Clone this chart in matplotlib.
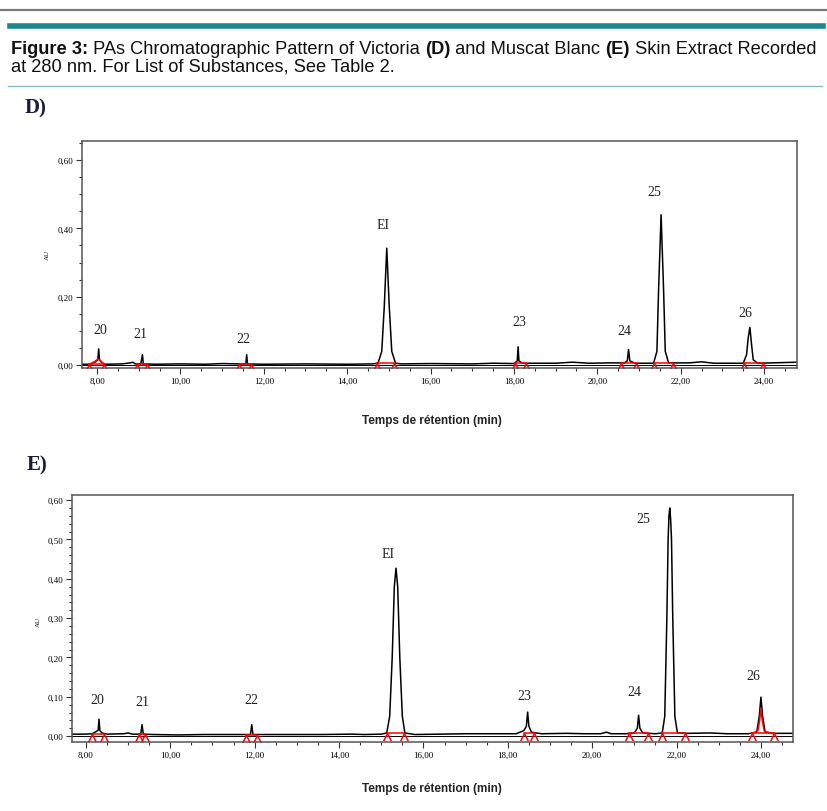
import numpy as np
import matplotlib.pyplot as plt
from matplotlib.ticker import MultipleLocator, FuncFormatter

# ---- data ----
# panel D : Victoria
d_time = [7.64, 7.85, 7.95, 8.02, 8.04, 8.06, 8.12, 8.2, 8.6, 8.8, 8.85, 8.92, 9.05, 9.09, 9.11,
          9.4, 10.0, 10.6, 11.0, 11.4, 11.57, 11.59, 11.61, 12.0, 13.0, 14.0, 14.6, 14.74, 14.83,
          14.89, 14.95, 15.01, 15.07, 15.16, 15.3, 16.0, 17.0, 17.5, 18.0, 18.08, 18.10, 18.12,
          18.2, 19.0, 19.4, 19.8, 20.3, 20.65, 20.72, 20.75, 20.78, 20.9, 21.35, 21.43, 21.47,
          21.53, 21.59, 21.63, 21.71, 22.2, 22.5, 22.8, 23.5, 23.58, 23.62, 23.66, 23.70, 23.74,
          23.85, 24.5, 24.79]
d_au = [0.002, 0.002, 0.008, 0.015, 0.047, 0.015, 0.006, 0.002, 0.003, 0.006, 0.008, 0.003, 0.003,
        0.030, 0.003, 0.002, 0.003, 0.002, 0.004, 0.003, 0.003, 0.030, 0.003, 0.002, 0.003, 0.002,
        0.003, 0.005, 0.04, 0.17, 0.342, 0.17, 0.04, 0.005, 0.003, 0.004, 0.003, 0.005, 0.004,
        0.012, 0.053, 0.012, 0.005, 0.005, 0.008, 0.005, 0.006, 0.006, 0.012, 0.045, 0.012, 0.005,
        0.005, 0.04, 0.22, 0.44, 0.22, 0.04, 0.006, 0.006, 0.009, 0.005, 0.005, 0.03, 0.08, 0.11,
        0.06, 0.015, 0.005, 0.007, 0.008]
d_names = ["20", "21", "22", "EI", "23", "24", "25", "26"]
d_lab_x = [8.07, 9.03, 11.5, 14.86, 18.14, 20.66, 21.36, 23.54]
d_lab_y = [0.103, 0.091, 0.076, 0.41, 0.126, 0.10, 0.507, 0.155]
d_start = [7.81, 8.95, 11.4, 14.72, 18.02, 20.56, 21.36, 23.52]
d_end = [8.17, 9.2, 11.7, 15.12, 18.3, 20.94, 21.81, 23.97]
d_arch_x = [7.81, 7.95, 8.02, 8.06, 8.12, 8.17]
d_arch_y = [0.002, 0.01, 0.017, 0.015, 0.008, 0.002]

# panel E : Muscat Blanc
e_time = [7.67, 8.0, 8.15, 8.25, 8.29, 8.31, 8.33, 8.38, 8.5, 8.9, 9.0, 9.1, 9.3, 9.33, 9.36,
          9.6, 10.2, 10.8, 11.4, 11.9, 11.93, 11.96, 12.4, 13.0, 13.6, 14.3, 14.6, 15.0,
          15.13, 15.2, 15.26, 15.31, 15.35, 15.39, 15.44, 15.50, 15.56,
          15.8, 16.4, 17.0, 17.6, 18.2, 18.38, 18.44, 18.47, 18.50, 18.56,
          18.8, 19.4, 19.8, 20.2, 20.34, 20.45, 20.8, 21.0, 21.07, 21.10, 21.13, 21.2, 21.5,
          21.66, 21.72, 21.77, 21.80, 21.82, 21.84, 21.86, 21.88, 21.91, 21.96, 22.02,
          22.3, 22.8, 23.2, 23.7, 23.9, 23.96, 24.0, 24.04, 24.1, 24.3, 24.76]
e_au = [0.005, 0.005, 0.006, 0.012, 0.015, 0.043, 0.014, 0.008, 0.005, 0.006, 0.008, 0.005, 0.005,
        0.029, 0.005, 0.004, 0.003, 0.004, 0.004, 0.004, 0.029, 0.004, 0.004, 0.004, 0.004, 0.005,
        0.004, 0.005,
        0.008, 0.05, 0.2, 0.38, 0.427, 0.38, 0.2, 0.05, 0.008,
        0.004, 0.005, 0.006, 0.006, 0.006, 0.014, 0.025, 0.061, 0.025, 0.01,
        0.006, 0.007, 0.006, 0.006, 0.010, 0.006, 0.006, 0.008, 0.02, 0.053, 0.02, 0.008, 0.006,
        0.008, 0.05, 0.3, 0.5, 0.56, 0.58, 0.55, 0.5, 0.3, 0.05, 0.008,
        0.007, 0.008, 0.006, 0.006, 0.01, 0.05, 0.099, 0.05, 0.01, 0.007, 0.007]
e_names = ["20", "21", "22", "EI", "23", "24", "25", "26"]
e_lab_x = [8.26, 9.33, 11.91, 15.16, 18.38, 21.0, 21.22, 23.83]
e_lab_y = [0.094, 0.087, 0.094, 0.465, 0.104, 0.114, 0.552, 0.153]
e_start = [8.14, 9.25, 11.79, 15.13, 18.38, 20.87, 21.66, 23.8]
e_end = [8.43, 9.4, 12.06, 15.54, 18.62, 21.32, 22.21, 24.31]
e_arch_x = [23.8, 23.93, 23.97, 24.0, 24.03, 24.08, 24.31]
e_arch_y = [0.006, 0.015, 0.04, 0.07, 0.04, 0.012, 0.006]

W, H = 828, 812
fig = plt.figure(figsize=(W / 100, H / 100), dpi=100)

# header rules
fig.add_artist(plt.Line2D([0, 1], [1 - 11 / H, 1 - 11 / H], color="#7a7a7a", lw=1.6))
fig.add_artist(plt.Line2D([10 / W, 823 / W], [1 - 26.5 / H, 1 - 26.5 / H], color="#178a8e", lw=4))
fig.add_artist(plt.Line2D([8 / W, 822 / W], [1 - 87 / H, 1 - 87 / H], color="#7db7bf", lw=0.9))

# caption, bold and regular pieces side by side
cap1 = [("Figure 3:", "bold"), (" PAs Chromatographic Pattern of Victoria ", "normal"), ("(D)", "bold"),
        (" and Muscat Blanc ", "normal"), ("(E)", "bold"), (" Skin Extract Recorded", "normal")]
cap2 = [("at 280 nm. For List of Substances, See Table 2.", "normal")]
renderer = fig.canvas.get_renderer()


def line_width(parts, size):
    w = 0
    for s, wt in parts:
        t = fig.text(0, 0, s, fontsize=size, fontweight=wt, family="Liberation Sans")
        w += t.get_window_extent(renderer).width
        t.remove()
    return w


fs = 12 * 811 / line_width(cap1, 12)
for parts, base in [(cap1, 53.5), (cap2, 72)]:
    x = 11
    for s, wt in parts:
        t = fig.text(x / W, 1 - base / H, s, fontsize=fs, fontweight=wt, family="Liberation Sans",
                     va="baseline", ha="left", color="#111111")
        x += t.get_window_extent(renderer).width

fig.text(25 / W, 1 - 113 / H, "D)", fontsize=15, fontweight="bold", family="Liberation Serif",
         va="baseline", color="#1b1b3a")
fig.text(27 / W, 1 - 470 / H, "E)", fontsize=15, fontweight="bold", family="Liberation Serif",
         va="baseline", color="#1b1b3a")

# open caret, apex at the point, feet below
lam = [(-1, -2), (0, 0), (1, -2)]
comma = FuncFormatter(lambda v, p: f"{v:.2f}".replace(".", ","))


def panel(rect, xlim, ylim, ymaj, ymin, t, au, names, lx, ly, st, en, ax_x, ax_y, xl_y, yl_pos):
    ax = fig.add_axes(rect)
    ax.axhline(0, color="black", lw=0.7)
    ax.plot(t, au, color="black", lw=1.1)
    y0 = np.interp(st, t, au)
    y1 = np.interp(en, t, au)
    yb = np.minimum(y0, y1)
    for i in range(len(st)):
        ax.plot([st[i], en[i]], [yb[i], yb[i]], color="red", lw=1.1)
    ax.plot(ax_x, ax_y, color="red", lw=1.1)
    ax.plot(list(st) + list(en), list(yb) + list(yb), ls="none", marker=lam, ms=11,
            mfc="none", mec="red", mew=1.1)
    for n, x, y in zip(names, lx, ly):
        ax.text(x, y, n, fontsize=10, family="Liberation Serif", ha="center", va="center", color="#222222")
    ax.set_xlim(*xlim)
    ax.set_ylim(*ylim)
    ax.xaxis.set_major_locator(MultipleLocator(2))
    ax.xaxis.set_minor_locator(MultipleLocator(0.5))
    ax.yaxis.set_major_locator(MultipleLocator(ymaj))
    ax.yaxis.set_minor_locator(MultipleLocator(ymin))
    ax.xaxis.set_major_formatter(comma)
    ax.yaxis.set_major_formatter(comma)
    ax.tick_params(which="major", length=4, width=0.8, labelsize=6.5, pad=2, color="#333333")
    ax.tick_params(which="minor", length=2.5, width=0.8, color="#333333")
    for lb in ax.get_xticklabels() + ax.get_yticklabels():
        lb.set_family("Liberation Serif")
    for sp in ax.spines.values():
        sp.set_color("#555555")
        sp.set_linewidth(1.1)
    fig.text(432 / W, 1 - xl_y / H, "Temps de rétention (min)", fontsize=8.5, fontweight="bold",
             family="Liberation Sans", ha="center", va="center", color="#222222")
    fig.text(yl_pos[0] / W, 1 - yl_pos[1] / H, "AU", fontsize=5, rotation=90, ha="center",
             va="center", family="Liberation Serif")
    return ax


panel([82 / W, 1 - 369 / H, 715 / W, 227 / H], (7.64, 24.79), (-0.009, 0.656), 0.2, 0.05,
      d_time, d_au, d_names, d_lab_x, d_lab_y, d_start, d_end, d_arch_x, d_arch_y, 421, (47, 255))
panel([72 / W, 1 - 743 / H, 721 / W, 247 / H], (7.67, 24.76), (-0.015, 0.613), 0.1, 0.02,
      e_time, e_au, e_names, e_lab_x, e_lab_y, e_start, e_end, e_arch_x, e_arch_y, 789, (38, 622))

fig.savefig("out.png", dpi=100)
